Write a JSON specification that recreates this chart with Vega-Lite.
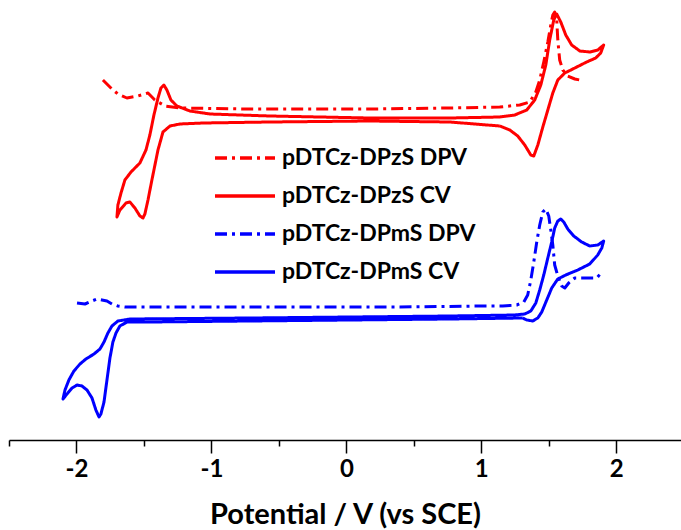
{
  "$schema": "https://vega.github.io/schema/vega-lite/v6.json",
  "autosize": "none",
  "width": 672,
  "height": 440,
  "padding": {"left": 9, "right": 0, "top": 0, "bottom": 90},
  "background": "white",
  "config": {
    "view": {"stroke": null},
    "font": "Lato"
  },
  "datasets": {
    "curves": [
      {"series": "pDTCz-DPzS DPV", "i": 1, "x": -1.804, "y": 360},
      {"series": "pDTCz-DPzS DPV", "i": 2, "x": -1.737, "y": 351},
      {"series": "pDTCz-DPzS DPV", "i": 3, "x": -1.693, "y": 346},
      {"series": "pDTCz-DPzS DPV", "i": 4, "x": -1.626, "y": 342},
      {"series": "pDTCz-DPzS DPV", "i": 5, "x": -1.544, "y": 344},
      {"series": "pDTCz-DPzS DPV", "i": 6, "x": -1.470, "y": 347},
      {"series": "pDTCz-DPzS DPV", "i": 7, "x": -1.419, "y": 340},
      {"series": "pDTCz-DPzS DPV", "i": 8, "x": -1.344, "y": 334},
      {"series": "pDTCz-DPzS DPV", "i": 9, "x": -1.233, "y": 332},
      {"series": "pDTCz-DPzS DPV", "i": 10, "x": -0.715, "y": 331},
      {"series": "pDTCz-DPzS DPV", "i": 11, "x": 0.174, "y": 331},
      {"series": "pDTCz-DPzS DPV", "i": 12, "x": 0.767, "y": 332},
      {"series": "pDTCz-DPzS DPV", "i": 13, "x": 1.137, "y": 333},
      {"series": "pDTCz-DPzS DPV", "i": 14, "x": 1.285, "y": 335},
      {"series": "pDTCz-DPzS DPV", "i": 15, "x": 1.359, "y": 338},
      {"series": "pDTCz-DPzS DPV", "i": 16, "x": 1.404, "y": 348},
      {"series": "pDTCz-DPzS DPV", "i": 17, "x": 1.433, "y": 360},
      {"series": "pDTCz-DPzS DPV", "i": 18, "x": 1.463, "y": 378},
      {"series": "pDTCz-DPzS DPV", "i": 19, "x": 1.493, "y": 398},
      {"series": "pDTCz-DPzS DPV", "i": 20, "x": 1.515, "y": 415},
      {"series": "pDTCz-DPzS DPV", "i": 21, "x": 1.530, "y": 425},
      {"series": "pDTCz-DPzS DPV", "i": 22, "x": 1.544, "y": 428},
      {"series": "pDTCz-DPzS DPV", "i": 23, "x": 1.559, "y": 420},
      {"series": "pDTCz-DPzS DPV", "i": 24, "x": 1.567, "y": 400},
      {"series": "pDTCz-DPzS DPV", "i": 25, "x": 1.581, "y": 380},
      {"series": "pDTCz-DPzS DPV", "i": 26, "x": 1.604, "y": 370},
      {"series": "pDTCz-DPzS DPV", "i": 27, "x": 1.641, "y": 364},
      {"series": "pDTCz-DPzS DPV", "i": 28, "x": 1.693, "y": 361},
      {"series": "pDTCz-DPzS DPV", "i": 29, "x": 1.730, "y": 360},

      {"series": "pDTCz-DPzS CV", "i": 1, "x": 1.137, "y": 314},
      {"series": "pDTCz-DPzS CV", "i": 2, "x": 0.767, "y": 318},
      {"series": "pDTCz-DPzS CV", "i": 3, "x": 0.174, "y": 319},
      {"series": "pDTCz-DPzS CV", "i": 4, "x": -0.567, "y": 318},
      {"series": "pDTCz-DPzS CV", "i": 5, "x": -1.063, "y": 317},
      {"series": "pDTCz-DPzS CV", "i": 6, "x": -1.233, "y": 316},
      {"series": "pDTCz-DPzS CV", "i": 7, "x": -1.307, "y": 314},
      {"series": "pDTCz-DPzS CV", "i": 8, "x": -1.359, "y": 308},
      {"series": "pDTCz-DPzS CV", "i": 9, "x": -1.396, "y": 290},
      {"series": "pDTCz-DPzS CV", "i": 10, "x": -1.441, "y": 260},
      {"series": "pDTCz-DPzS CV", "i": 11, "x": -1.470, "y": 240},
      {"series": "pDTCz-DPzS CV", "i": 12, "x": -1.493, "y": 226},
      {"series": "pDTCz-DPzS CV", "i": 13, "x": -1.507, "y": 222},
      {"series": "pDTCz-DPzS CV", "i": 14, "x": -1.530, "y": 224},
      {"series": "pDTCz-DPzS CV", "i": 15, "x": -1.567, "y": 232},
      {"series": "pDTCz-DPzS CV", "i": 16, "x": -1.604, "y": 238},
      {"series": "pDTCz-DPzS CV", "i": 17, "x": -1.633, "y": 237},
      {"series": "pDTCz-DPzS CV", "i": 18, "x": -1.678, "y": 230},
      {"series": "pDTCz-DPzS CV", "i": 19, "x": -1.700, "y": 223},
      {"series": "pDTCz-DPzS CV", "i": 20, "x": -1.693, "y": 235},
      {"series": "pDTCz-DPzS CV", "i": 21, "x": -1.670, "y": 247},
      {"series": "pDTCz-DPzS CV", "i": 22, "x": -1.641, "y": 260},
      {"series": "pDTCz-DPzS CV", "i": 23, "x": -1.596, "y": 268},
      {"series": "pDTCz-DPzS CV", "i": 24, "x": -1.530, "y": 277},
      {"series": "pDTCz-DPzS CV", "i": 25, "x": -1.485, "y": 290},
      {"series": "pDTCz-DPzS CV", "i": 26, "x": -1.456, "y": 305},
      {"series": "pDTCz-DPzS CV", "i": 27, "x": -1.426, "y": 325},
      {"series": "pDTCz-DPzS CV", "i": 28, "x": -1.396, "y": 342},
      {"series": "pDTCz-DPzS CV", "i": 29, "x": -1.374, "y": 352},
      {"series": "pDTCz-DPzS CV", "i": 30, "x": -1.352, "y": 355},
      {"series": "pDTCz-DPzS CV", "i": 31, "x": -1.330, "y": 350},
      {"series": "pDTCz-DPzS CV", "i": 32, "x": -1.300, "y": 340},
      {"series": "pDTCz-DPzS CV", "i": 33, "x": -1.256, "y": 334},
      {"series": "pDTCz-DPzS CV", "i": 34, "x": -1.159, "y": 329},
      {"series": "pDTCz-DPzS CV", "i": 35, "x": -1.011, "y": 326},
      {"series": "pDTCz-DPzS CV", "i": 36, "x": -0.567, "y": 324},
      {"series": "pDTCz-DPzS CV", "i": 37, "x": 0.174, "y": 322},
      {"series": "pDTCz-DPzS CV", "i": 38, "x": 0.767, "y": 322},
      {"series": "pDTCz-DPzS CV", "i": 39, "x": 1.137, "y": 323},
      {"series": "pDTCz-DPzS CV", "i": 40, "x": 1.248, "y": 325},
      {"series": "pDTCz-DPzS CV", "i": 41, "x": 1.337, "y": 330},
      {"series": "pDTCz-DPzS CV", "i": 42, "x": 1.396, "y": 340},
      {"series": "pDTCz-DPzS CV", "i": 43, "x": 1.441, "y": 355},
      {"series": "pDTCz-DPzS CV", "i": 44, "x": 1.478, "y": 375},
      {"series": "pDTCz-DPzS CV", "i": 45, "x": 1.507, "y": 400},
      {"series": "pDTCz-DPzS CV", "i": 46, "x": 1.537, "y": 420},
      {"series": "pDTCz-DPzS CV", "i": 47, "x": 1.559, "y": 426},
      {"series": "pDTCz-DPzS CV", "i": 48, "x": 1.589, "y": 418},
      {"series": "pDTCz-DPzS CV", "i": 49, "x": 1.626, "y": 405},
      {"series": "pDTCz-DPzS CV", "i": 50, "x": 1.670, "y": 395},
      {"series": "pDTCz-DPzS CV", "i": 51, "x": 1.730, "y": 389},
      {"series": "pDTCz-DPzS CV", "i": 52, "x": 1.804, "y": 388},
      {"series": "pDTCz-DPzS CV", "i": 53, "x": 1.863, "y": 390},
      {"series": "pDTCz-DPzS CV", "i": 54, "x": 1.907, "y": 395},
      {"series": "pDTCz-DPzS CV", "i": 55, "x": 1.885, "y": 387},
      {"series": "pDTCz-DPzS CV", "i": 56, "x": 1.848, "y": 382},
      {"series": "pDTCz-DPzS CV", "i": 57, "x": 1.781, "y": 378},
      {"series": "pDTCz-DPzS CV", "i": 58, "x": 1.693, "y": 372},
      {"series": "pDTCz-DPzS CV", "i": 59, "x": 1.619, "y": 367},
      {"series": "pDTCz-DPzS CV", "i": 60, "x": 1.567, "y": 360},
      {"series": "pDTCz-DPzS CV", "i": 61, "x": 1.530, "y": 347},
      {"series": "pDTCz-DPzS CV", "i": 62, "x": 1.493, "y": 330},
      {"series": "pDTCz-DPzS CV", "i": 63, "x": 1.456, "y": 313},
      {"series": "pDTCz-DPzS CV", "i": 64, "x": 1.419, "y": 295},
      {"series": "pDTCz-DPzS CV", "i": 65, "x": 1.389, "y": 284},
      {"series": "pDTCz-DPzS CV", "i": 66, "x": 1.367, "y": 285},
      {"series": "pDTCz-DPzS CV", "i": 67, "x": 1.322, "y": 295},
      {"series": "pDTCz-DPzS CV", "i": 68, "x": 1.270, "y": 304},
      {"series": "pDTCz-DPzS CV", "i": 69, "x": 1.211, "y": 310},
      {"series": "pDTCz-DPzS CV", "i": 70, "x": 1.137, "y": 314},

      {"series": "pDTCz-DPmS DPV", "i": 1, "x": -1.996, "y": 137},
      {"series": "pDTCz-DPmS DPV", "i": 2, "x": -1.937, "y": 136},
      {"series": "pDTCz-DPmS DPV", "i": 3, "x": -1.885, "y": 139},
      {"series": "pDTCz-DPmS DPV", "i": 4, "x": -1.848, "y": 141},
      {"series": "pDTCz-DPmS DPV", "i": 5, "x": -1.811, "y": 140},
      {"series": "pDTCz-DPmS DPV", "i": 6, "x": -1.774, "y": 139},
      {"series": "pDTCz-DPmS DPV", "i": 7, "x": -1.737, "y": 136},
      {"series": "pDTCz-DPmS DPV", "i": 8, "x": -1.693, "y": 134},
      {"series": "pDTCz-DPmS DPV", "i": 9, "x": -1.641, "y": 133},
      {"series": "pDTCz-DPmS DPV", "i": 10, "x": -1.085, "y": 133},
      {"series": "pDTCz-DPmS DPV", "i": 11, "x": -0.344, "y": 133},
      {"series": "pDTCz-DPmS DPV", "i": 12, "x": 0.396, "y": 133},
      {"series": "pDTCz-DPmS DPV", "i": 13, "x": 0.989, "y": 134},
      {"series": "pDTCz-DPmS DPV", "i": 14, "x": 1.159, "y": 134},
      {"series": "pDTCz-DPmS DPV", "i": 15, "x": 1.263, "y": 135},
      {"series": "pDTCz-DPmS DPV", "i": 16, "x": 1.315, "y": 138},
      {"series": "pDTCz-DPmS DPV", "i": 17, "x": 1.344, "y": 145},
      {"series": "pDTCz-DPmS DPV", "i": 18, "x": 1.367, "y": 160},
      {"series": "pDTCz-DPmS DPV", "i": 19, "x": 1.389, "y": 178},
      {"series": "pDTCz-DPmS DPV", "i": 20, "x": 1.411, "y": 198},
      {"series": "pDTCz-DPmS DPV", "i": 21, "x": 1.433, "y": 215},
      {"series": "pDTCz-DPmS DPV", "i": 22, "x": 1.456, "y": 228},
      {"series": "pDTCz-DPmS DPV", "i": 23, "x": 1.478, "y": 231},
      {"series": "pDTCz-DPmS DPV", "i": 24, "x": 1.500, "y": 224},
      {"series": "pDTCz-DPmS DPV", "i": 25, "x": 1.515, "y": 210},
      {"series": "pDTCz-DPmS DPV", "i": 26, "x": 1.530, "y": 195},
      {"series": "pDTCz-DPmS DPV", "i": 27, "x": 1.544, "y": 175},
      {"series": "pDTCz-DPmS DPV", "i": 28, "x": 1.567, "y": 164},
      {"series": "pDTCz-DPmS DPV", "i": 29, "x": 1.596, "y": 154},
      {"series": "pDTCz-DPmS DPV", "i": 30, "x": 1.619, "y": 152},
      {"series": "pDTCz-DPmS DPV", "i": 31, "x": 1.648, "y": 157},
      {"series": "pDTCz-DPmS DPV", "i": 32, "x": 1.693, "y": 162},
      {"series": "pDTCz-DPmS DPV", "i": 33, "x": 1.789, "y": 162},
      {"series": "pDTCz-DPmS DPV", "i": 34, "x": 1.856, "y": 162},
      {"series": "pDTCz-DPmS DPV", "i": 35, "x": 1.893, "y": 168},

      {"series": "pDTCz-DPmS CV", "i": 1, "x": 1.307, "y": 122},
      {"series": "pDTCz-DPmS CV", "i": 2, "x": 0.767, "y": 121},
      {"series": "pDTCz-DPmS CV", "i": 3, "x": 0.026, "y": 120},
      {"series": "pDTCz-DPmS CV", "i": 4, "x": -0.715, "y": 119},
      {"series": "pDTCz-DPmS CV", "i": 5, "x": -1.456, "y": 118},
      {"series": "pDTCz-DPmS CV", "i": 6, "x": -1.626, "y": 118},
      {"series": "pDTCz-DPmS CV", "i": 7, "x": -1.678, "y": 114},
      {"series": "pDTCz-DPmS CV", "i": 8, "x": -1.707, "y": 107},
      {"series": "pDTCz-DPmS CV", "i": 9, "x": -1.730, "y": 98},
      {"series": "pDTCz-DPmS CV", "i": 10, "x": -1.752, "y": 82},
      {"series": "pDTCz-DPmS CV", "i": 11, "x": -1.774, "y": 60},
      {"series": "pDTCz-DPmS CV", "i": 12, "x": -1.796, "y": 38},
      {"series": "pDTCz-DPmS CV", "i": 13, "x": -1.819, "y": 26},
      {"series": "pDTCz-DPmS CV", "i": 14, "x": -1.833, "y": 23},
      {"series": "pDTCz-DPmS CV", "i": 15, "x": -1.856, "y": 30},
      {"series": "pDTCz-DPmS CV", "i": 16, "x": -1.885, "y": 42},
      {"series": "pDTCz-DPmS CV", "i": 17, "x": -1.922, "y": 50},
      {"series": "pDTCz-DPmS CV", "i": 18, "x": -1.959, "y": 54},
      {"series": "pDTCz-DPmS CV", "i": 19, "x": -1.996, "y": 55},
      {"series": "pDTCz-DPmS CV", "i": 20, "x": -2.033, "y": 52},
      {"series": "pDTCz-DPmS CV", "i": 21, "x": -2.070, "y": 46},
      {"series": "pDTCz-DPmS CV", "i": 22, "x": -2.100, "y": 41},
      {"series": "pDTCz-DPmS CV", "i": 23, "x": -2.085, "y": 50},
      {"series": "pDTCz-DPmS CV", "i": 24, "x": -2.056, "y": 60},
      {"series": "pDTCz-DPmS CV", "i": 25, "x": -2.019, "y": 69},
      {"series": "pDTCz-DPmS CV", "i": 26, "x": -1.974, "y": 76},
      {"series": "pDTCz-DPmS CV", "i": 27, "x": -1.930, "y": 81},
      {"series": "pDTCz-DPmS CV", "i": 28, "x": -1.870, "y": 86},
      {"series": "pDTCz-DPmS CV", "i": 29, "x": -1.826, "y": 91},
      {"series": "pDTCz-DPmS CV", "i": 30, "x": -1.796, "y": 98},
      {"series": "pDTCz-DPmS CV", "i": 31, "x": -1.767, "y": 107},
      {"series": "pDTCz-DPmS CV", "i": 32, "x": -1.737, "y": 114},
      {"series": "pDTCz-DPmS CV", "i": 33, "x": -1.693, "y": 119},
      {"series": "pDTCz-DPmS CV", "i": 34, "x": -1.604, "y": 121},
      {"series": "pDTCz-DPmS CV", "i": 35, "x": -0.715, "y": 122},
      {"series": "pDTCz-DPmS CV", "i": 36, "x": 0.026, "y": 123},
      {"series": "pDTCz-DPmS CV", "i": 37, "x": 0.767, "y": 124},
      {"series": "pDTCz-DPmS CV", "i": 38, "x": 1.248, "y": 125},
      {"series": "pDTCz-DPmS CV", "i": 39, "x": 1.322, "y": 126},
      {"series": "pDTCz-DPmS CV", "i": 40, "x": 1.367, "y": 129},
      {"series": "pDTCz-DPmS CV", "i": 41, "x": 1.404, "y": 137},
      {"series": "pDTCz-DPmS CV", "i": 42, "x": 1.433, "y": 150},
      {"series": "pDTCz-DPmS CV", "i": 43, "x": 1.463, "y": 165},
      {"series": "pDTCz-DPmS CV", "i": 44, "x": 1.493, "y": 182},
      {"series": "pDTCz-DPmS CV", "i": 45, "x": 1.522, "y": 198},
      {"series": "pDTCz-DPmS CV", "i": 46, "x": 1.544, "y": 212},
      {"series": "pDTCz-DPmS CV", "i": 47, "x": 1.567, "y": 219},
      {"series": "pDTCz-DPmS CV", "i": 48, "x": 1.589, "y": 221},
      {"series": "pDTCz-DPmS CV", "i": 49, "x": 1.611, "y": 218},
      {"series": "pDTCz-DPmS CV", "i": 50, "x": 1.641, "y": 211},
      {"series": "pDTCz-DPmS CV", "i": 51, "x": 1.685, "y": 204},
      {"series": "pDTCz-DPmS CV", "i": 52, "x": 1.744, "y": 198},
      {"series": "pDTCz-DPmS CV", "i": 53, "x": 1.804, "y": 194},
      {"series": "pDTCz-DPmS CV", "i": 54, "x": 1.863, "y": 195},
      {"series": "pDTCz-DPmS CV", "i": 55, "x": 1.907, "y": 199},
      {"series": "pDTCz-DPmS CV", "i": 56, "x": 1.893, "y": 192},
      {"series": "pDTCz-DPmS CV", "i": 57, "x": 1.863, "y": 185},
      {"series": "pDTCz-DPmS CV", "i": 58, "x": 1.804, "y": 176},
      {"series": "pDTCz-DPmS CV", "i": 59, "x": 1.715, "y": 170},
      {"series": "pDTCz-DPmS CV", "i": 60, "x": 1.626, "y": 165},
      {"series": "pDTCz-DPmS CV", "i": 61, "x": 1.567, "y": 161},
      {"series": "pDTCz-DPmS CV", "i": 62, "x": 1.522, "y": 152},
      {"series": "pDTCz-DPmS CV", "i": 63, "x": 1.485, "y": 140},
      {"series": "pDTCz-DPmS CV", "i": 64, "x": 1.448, "y": 128},
      {"series": "pDTCz-DPmS CV", "i": 65, "x": 1.419, "y": 122},
      {"series": "pDTCz-DPmS CV", "i": 66, "x": 1.381, "y": 119},
      {"series": "pDTCz-DPmS CV", "i": 67, "x": 1.337, "y": 120},
      {"series": "pDTCz-DPmS CV", "i": 68, "x": 1.307, "y": 122}
    ]
  },
  "data": {"name": "curves"},
  "mark": {"type": "line", "strokeWidth": 3, "interpolate": "linear", "strokeJoin": "round", "strokeCap": "butt"},
  "encoding": {
    "x": {
      "field": "x",
      "type": "quantitative",
      "scale": {"domain": [-2.5, 2.48], "nice": false, "zero": false},
      "axis": {
        "title": "Potential / V (vs SCE)",
        "values": [-2.5, -2, -1.5, -1, -0.5, 0, 0.5, 1, 1.5, 2],
        "labelExpr": "datum.value % 1 === 0 ? '' + datum.value : ''",
        "grid": false,
        "domainColor": "black",
        "domainWidth": 1.5,
        "tickColor": "black",
        "tickWidth": 1.5,
        "tickSize": {"condition": {"test": "datum.value % 1 === 0", "value": 13}, "value": 6},
        "labelFont": "Lato",
        "labelFontWeight": "bold",
        "labelFontSize": 24,
        "labelColor": "black",
        "labelPadding": 4,
        "titleFont": "Lato",
        "titleFontWeight": "bold",
        "titleFontSize": 29,
        "titleColor": "black",
        "titlePadding": 19
      }
    },
    "y": {
      "field": "y",
      "type": "quantitative",
      "scale": {"domain": [0, 440], "nice": false, "zero": false},
      "axis": null
    },
    "order": {"field": "i", "type": "quantitative"},
    "color": {
      "field": "series",
      "type": "nominal",
      "scale": {
        "domain": ["pDTCz-DPzS DPV", "pDTCz-DPzS CV", "pDTCz-DPmS DPV", "pDTCz-DPmS CV"],
        "range": ["#ff0000", "#ff0000", "#0000ff", "#0000ff"]
      },
      "legend": {
        "title": null,
        "orient": "none",
        "legendX": 206,
        "legendY": 141,
        "padding": 0,
        "symbolType": "M-2,0H2",
        "symbolSize": 900,
        "symbolStrokeWidth": 3.5,
        "symbolOffset": 13,
        "labelFont": "Lato",
        "labelFontWeight": "bold",
        "labelFontSize": 23,
        "labelColor": "black",
        "labelOffset": 20,
        "rowPadding": 9,
        "labelLimit": 400
      }
    },
    "strokeDash": {
      "field": "series",
      "type": "nominal",
      "scale": {
        "domain": ["pDTCz-DPzS DPV", "pDTCz-DPzS CV", "pDTCz-DPmS DPV", "pDTCz-DPmS CV"],
        "range": [[12, 5, 3, 5], [1, 0], [12, 5, 3, 5], [1, 0]]
      },
      "legend": {
        "title": null,
        "orient": "none",
        "legendX": 206,
        "legendY": 141,
        "padding": 0,
        "symbolType": "M-2,0H2",
        "symbolSize": 900,
        "symbolStrokeWidth": 3.5,
        "symbolOffset": 13,
        "labelFont": "Lato",
        "labelFontWeight": "bold",
        "labelFontSize": 23,
        "labelColor": "black",
        "labelOffset": 20,
        "rowPadding": 9,
        "labelLimit": 400
      }
    }
  }
}
